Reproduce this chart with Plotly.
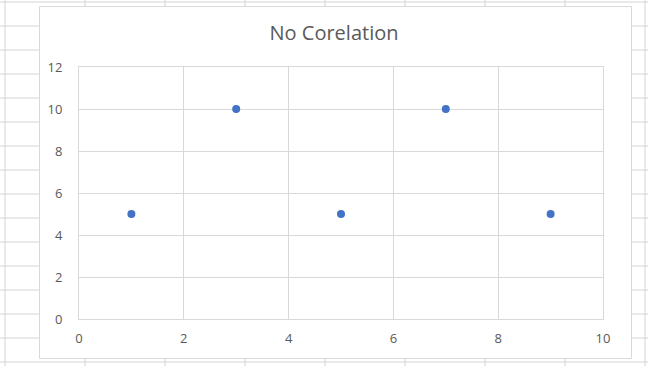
import plotly.graph_objects as go

x_vals = [1, 3, 5, 7, 9]
y_vals = [5, 10, 5, 10, 5]
title_text = "No Corelation"

W, H = 648, 366
L, R, T, B = 79, 603, 67, 319  # plot area pixel bounds

def px(x):
    return (x - L) / (R - L)

def py(y):
    return (B - y) / (B - T)

grid_col = "#d4d4d4"
shapes = []
# spreadsheet background grid
for r in range(16):
    yy = 2 + 24 * r
    shapes.append(dict(type="line", xref="paper", yref="paper", layer="below",
                       x0=px(-5), x1=px(W + 5), y0=py(yy), y1=py(yy),
                       line=dict(color=grid_col, width=1)))
for c in range(9):
    xx = 5 + 80 * c
    shapes.append(dict(type="line", xref="paper", yref="paper", layer="below",
                       x0=px(xx), x1=px(xx), y0=py(-5), y1=py(H + 5),
                       line=dict(color=grid_col, width=1)))
# chart area
shapes.append(dict(type="rect", xref="paper", yref="paper", layer="below",
                   x0=px(39.5), x1=px(631.5), y0=py(6.5), y1=py(358.5),
                   fillcolor="white", line=dict(color="#d9d9d9", width=1)))

fig = go.Figure(go.Scatter(x=x_vals, y=y_vals, mode="markers",
                           marker=dict(color="#4472C4", size=8, line=dict(width=0))))

axis_common = dict(showgrid=True, gridcolor="#d9d9d9", gridwidth=1,
                   zeroline=False, showline=True, mirror=True,
                   linecolor="#d9d9d9", linewidth=1, ticks="",
                   tickfont=dict(family="Open Sans", size=13, color="#595959"))

fig.update_layout(
    width=W, height=H,
    margin=dict(l=L, r=W - R, t=T, b=H - B, pad=0),
    paper_bgcolor="white", plot_bgcolor="rgba(0,0,0,0)",
    showlegend=False,
    shapes=shapes,
    title=dict(text=title_text, x=334 / W, xanchor="center", xref="container",
               y=1 - 32.5 / H, yanchor="middle", yref="container",
               font=dict(family="Open Sans", size=20, color="#595959")),
    xaxis=dict(range=[0, 10], dtick=2, tick0=0, ticklabelstandoff=7, **axis_common),
    yaxis=dict(range=[0, 12], dtick=2, tick0=0, ticklabelstandoff=13, **axis_common),
)

fig.write_html("out.html", config={"displayModeBar": False},
               post_script="document.body.style.margin='0';document.body.style.padding='0';")
